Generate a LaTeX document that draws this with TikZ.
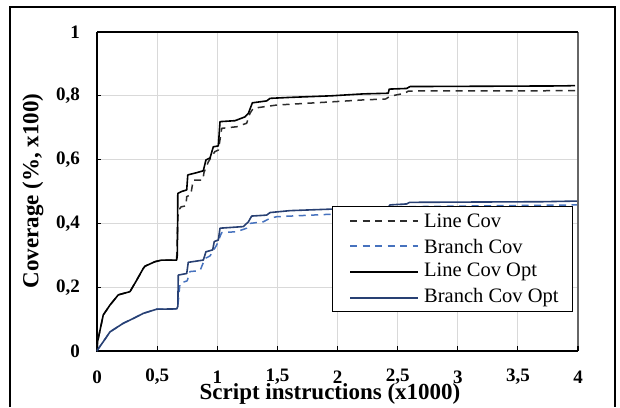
\documentclass[tikz,border=0pt]{standalone}
\usepackage{fontspec}
\setmainfont{Liberation Serif}
\usepackage{tikz}

\definecolor{gridgray}{RGB}{217,217,217}
\definecolor{branchblue}{RGB}{70,114,190}
\definecolor{branchnavy}{RGB}{40,64,115}
\definecolor{linedark}{RGB}{45,45,45}

\begin{document}
\begin{tikzpicture}[x=1pt,y=1pt,
    gridline/.style={gridgray,line width=1.1pt},
    ticklabel/.style={font=\fontsize{19}{19}\selectfont\bfseries,inner sep=0pt},
    axistitle/.style={font=\fontsize{23}{23}\selectfont\bfseries,inner sep=0pt},
    legendtext/.style={font=\fontsize{20.5}{20.5}\selectfont,anchor=west,inner sep=0pt},
    cov/.style={line width=1.5pt,dash pattern=on 7pt off 5.5pt,line join=round},
    covopt/.style={line width=1.6pt,line join=round},
    linecov/.style={cov,linedark},
    branchcov/.style={cov,branchblue},
    linecovopt/.style={covopt,black},
    branchcovopt/.style={covopt,branchnavy}]
        \useasboundingbox (0,0) rectangle (620,407);
        \draw[line width=1.2pt] (10,0) -- (10,400) -- (615,400) -- (615,0);
        \begin{scope}[shift={(97,56)},x=120.25pt,y=319pt]
            \foreach \x in {0.5,1,...,3.5} \draw[gridline] (\x,0) -- (\x,1);
            \foreach \y in {0.2,0.4,0.6,0.8} \draw[gridline] (0,\y) -- (4,\y);
            \draw[gray!80!black,line width=1.1pt] (4,0) -- (4,1);
            \draw[line width=1.1pt] (0,1) -- (4,1);
            \draw[line width=1.3pt] (0,1) -- (0,0) -- (4,0);
            \foreach \x in {0.5,1,...,4} \draw[line width=1.1pt] (\x,0) -- ++(0,5pt);
            \foreach \y in {0.2,0.4,...,1} \draw[line width=1.1pt] (0,\y) -- ++(4pt,0);
            \foreach \y/\t in {0/0,0.2/{0,2},0.4/{0,4},0.6/{0,6},0.8/{0,8},1/1}
                \node[ticklabel,anchor=east] (ylab\t) at ([xshift=-17pt]0,\y) {\t};
            \foreach \x/\t in {0/0,0.5/{0,5},1/1,1.5/{1,5},2/2,2.5/{2,5},3/3,3.5/{3,5},4/4}
                \node[ticklabel] (xlab\t) at ([yshift=-26pt]\x,0) {\t};
            \draw[linecov] (0,0) -- (0.005,0.03) -- (0.02,0.056) -- (0.052,0.113) -- (0.108,0.144)
                -- (0.177,0.176) -- (0.274,0.186) -- (0.33,0.222) -- (0.385,0.259) -- (0.40,0.266)
                -- (0.482,0.28) -- (0.538,0.285) -- (0.662,0.285) -- (0.675,0.44) -- (0.70,0.452)
                -- (0.74,0.455) -- (0.746,0.484) -- (0.78,0.49) -- (0.80,0.536) -- (0.88,0.536)
                -- (0.89,0.56) -- (0.926,0.593) -- (0.98,0.625) -- (1.01,0.63) -- (1.037,0.698)
                -- (1.162,0.703) -- (1.245,0.714) -- (1.272,0.745) -- (1.30,0.761) -- (1.494,0.771)
                -- (1.952,0.781) -- (2.21,0.787) -- (2.40,0.790) -- (2.44,0.799) -- (2.56,0.808)
                -- (2.59,0.815) -- (3.975,0.816);
            \draw[branchcov] (0,0) -- (0.003,0.003) -- (0.052,0.029) -- (0.108,0.06) -- (0.219,0.087)
                -- (0.302,0.102) -- (0.385,0.118) -- (0.496,0.131) -- (0.663,0.132) -- (0.672,0.14)
                -- (0.69,0.212) -- (0.75,0.22) -- (0.773,0.249) -- (0.857,0.252) -- (0.898,0.29)
                -- (0.94,0.298) -- (0.995,0.332) -- (1.036,0.371) -- (1.162,0.374) -- (1.245,0.385)
                -- (1.272,0.40) -- (1.383,0.405) -- (1.439,0.416) -- (1.494,0.421) -- (1.965,0.429)
                -- (2.41,0.434) -- (2.464,0.452) -- (3.99,0.458);
            \draw[linecovopt] (0,0) -- (0.005,0.03) -- (0.02,0.056) -- (0.052,0.113) -- (0.108,0.144)
                -- (0.177,0.176) -- (0.274,0.186) -- (0.33,0.222) -- (0.385,0.259) -- (0.40,0.266)
                -- (0.482,0.28) -- (0.538,0.285) -- (0.662,0.285) -- (0.668,0.30) -- (0.672,0.494)
                -- (0.704,0.50) -- (0.746,0.505) -- (0.755,0.552) -- (0.829,0.559) -- (0.884,0.565)
                -- (0.906,0.599) -- (0.94,0.605) -- (0.967,0.640) -- (1.009,0.643) -- (1.023,0.719)
                -- (1.148,0.722) -- (1.231,0.734) -- (1.259,0.745) -- (1.292,0.778) -- (1.411,0.784)
                -- (1.439,0.792) -- (1.605,0.795) -- (1.952,0.800) -- (2.215,0.806) -- (2.422,0.808)
                -- (2.43,0.821) -- (2.575,0.823) -- (2.603,0.829) -- (3.878,0.831) -- (3.975,0.832);
            \draw[branchcovopt] (0,0) -- (0.003,0.003) -- (0.052,0.029) -- (0.108,0.06) -- (0.219,0.087)
                -- (0.302,0.102) -- (0.385,0.118) -- (0.496,0.131) -- (0.663,0.132) -- (0.672,0.14)
                -- (0.676,0.238) -- (0.746,0.243) -- (0.759,0.278) -- (0.884,0.285) -- (0.906,0.311)
                -- (0.962,0.317) -- (0.975,0.343) -- (1.009,0.348) -- (1.023,0.385) -- (1.217,0.390)
                -- (1.259,0.405) -- (1.286,0.423) -- (1.411,0.426) -- (1.439,0.434) -- (1.605,0.440)
                -- (1.965,0.445) -- (2.42,0.450) -- (2.437,0.458) -- (2.575,0.461) -- (2.60,0.466)
                -- (3.71,0.468) -- (3.99,0.470);
        \end{scope}
        \node[axistitle,rotate=90] (ytitle) at (33,216) {Coverage (\%, x100)};
        \node[axistitle] (xtitle) at (330,13) {Script instructions (x1000)};
        \draw[fill=white,line width=1pt] (332,96) rectangle (572,200);
        \draw[linecov] (350,186) -- (418,186);
        \node[legendtext] (lc) at (424,186) {Line Cov};
        \draw[branchcov] (350,161) -- (418,161);
        \node[legendtext] (bc) at (424,161) {Branch Cov};
        \draw[linecovopt] (350,135) -- (418,135);
        \node[legendtext] (lco) at (424,135) {Line Cov Opt};
        \draw[branchcovopt] (350,109) -- (418,109);
        \node[legendtext] (bco) at (424,109) {Branch Cov Opt};
    \end{tikzpicture}
\end{document}
